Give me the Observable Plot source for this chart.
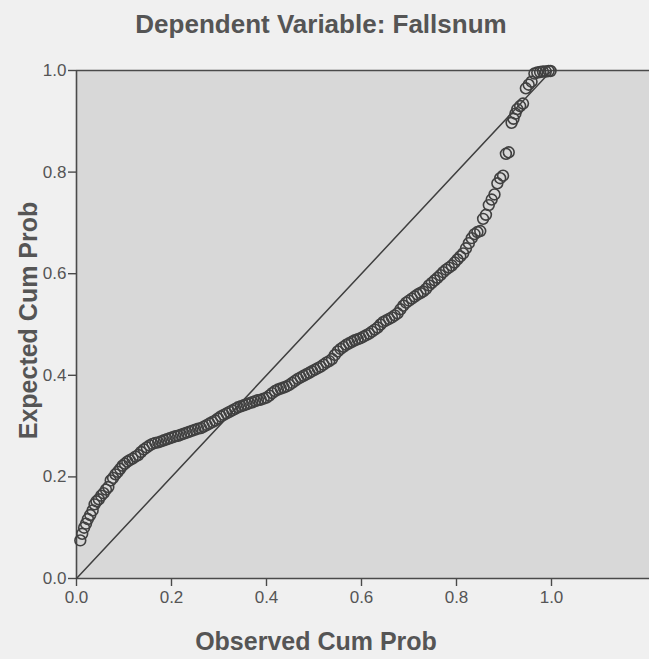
<!DOCTYPE html>
<html>
<head>
<meta charset="utf-8">
<script src="https://cdn.jsdelivr.net/npm/d3@7"></script>
<script src="https://cdn.jsdelivr.net/npm/@observablehq/plot@0.6"></script>
<style>
  html, body { margin: 0; padding: 0; background: #f0f0f0; }
  #chart { width: 649px; height: 659px; }
</style>
</head>
<body>
<div id="chart"></div>
<script>
const titleText = "Dependent Variable: Fallsnum";
const xLabel = "Observed Cum Prob";
const yLabel = "Expected Cum Prob";
const xTicks = [0, 0.2, 0.4, 0.6, 0.8, 1.0];
const yTicks = [0, 0.2, 0.4, 0.6, 0.8, 1.0];
const diagonal = [0, 1];

const observed = [
  0.008, 0.012, 0.016, 0.020, 0.024, 0.029, 0.034, 0.038, 0.042, 0.047,
  0.052, 0.057, 0.062, 0.067, 0.072, 0.077, 0.082, 0.087, 0.092, 0.097,
  0.102, 0.107, 0.112, 0.118, 0.124, 0.130, 0.136, 0.142, 0.148, 0.154,
  0.160, 0.166, 0.172, 0.178, 0.184, 0.190, 0.196, 0.202, 0.208, 0.214,
  0.220, 0.226, 0.232, 0.238, 0.244, 0.250, 0.256, 0.262, 0.268, 0.274,
  0.280, 0.286, 0.292, 0.298, 0.304, 0.310, 0.316, 0.322, 0.328, 0.334,
  0.340, 0.346, 0.352, 0.358, 0.364, 0.370, 0.376, 0.382, 0.388, 0.394,
  0.400, 0.406, 0.412, 0.418, 0.424, 0.430, 0.436, 0.442, 0.448, 0.454,
  0.460, 0.466, 0.472, 0.478, 0.484, 0.490, 0.496, 0.502, 0.508, 0.514,
  0.520, 0.526, 0.532, 0.538, 0.544, 0.550, 0.556, 0.562, 0.568, 0.574,
  0.580, 0.586, 0.592, 0.598, 0.604, 0.610, 0.616, 0.622, 0.628, 0.634,
  0.640, 0.646, 0.652, 0.658, 0.664, 0.670, 0.676, 0.682, 0.688, 0.694,
  0.700, 0.706, 0.712, 0.718, 0.724, 0.730, 0.736, 0.742, 0.748, 0.754,
  0.760, 0.766, 0.772, 0.778, 0.784, 0.790, 0.796, 0.802, 0.808, 0.814,
  0.820, 0.826, 0.832, 0.838, 0.844, 0.850, 0.856, 0.862, 0.868, 0.874,
  0.880, 0.886, 0.892, 0.898, 0.904, 0.910, 0.916, 0.920, 0.924, 0.928,
  0.934, 0.940, 0.946, 0.952, 0.958, 0.964, 0.970, 0.976, 0.982, 0.988,
  0.994, 0.998
];
const expected = [
  0.075, 0.088, 0.100, 0.108, 0.117, 0.125, 0.134, 0.146, 0.152, 0.156,
  0.163, 0.168, 0.175, 0.180, 0.193, 0.198, 0.205, 0.210, 0.216, 0.222,
  0.226, 0.230, 0.233, 0.236, 0.240, 0.243, 0.249, 0.254, 0.258, 0.262,
  0.265, 0.267, 0.268, 0.270, 0.272, 0.274, 0.276, 0.278, 0.280, 0.281,
  0.283, 0.285, 0.287, 0.289, 0.291, 0.293, 0.295, 0.296, 0.299, 0.302,
  0.305, 0.308, 0.311, 0.315, 0.319, 0.322, 0.325, 0.328, 0.331, 0.334,
  0.337, 0.339, 0.341, 0.343, 0.345, 0.347, 0.349, 0.351, 0.352, 0.354,
  0.356, 0.360, 0.365, 0.369, 0.372, 0.374, 0.376, 0.378, 0.381, 0.385,
  0.389, 0.393, 0.396, 0.399, 0.402, 0.405, 0.408, 0.411, 0.414, 0.417,
  0.421, 0.425, 0.428, 0.432, 0.440, 0.447, 0.452, 0.456, 0.460, 0.463,
  0.466, 0.469, 0.471, 0.473, 0.476, 0.479, 0.482, 0.486, 0.490, 0.494,
  0.500, 0.505, 0.508, 0.511, 0.514, 0.518, 0.522, 0.530, 0.537, 0.543,
  0.547, 0.551, 0.555, 0.559, 0.562, 0.565, 0.570, 0.577, 0.582, 0.587,
  0.592, 0.597, 0.603, 0.608, 0.612, 0.616, 0.622, 0.628, 0.634, 0.640,
  0.650, 0.660, 0.670, 0.678, 0.682, 0.684, 0.708, 0.716, 0.735, 0.746,
  0.756, 0.778, 0.788, 0.793, 0.836, 0.839, 0.897, 0.905, 0.915, 0.924,
  0.930, 0.935, 0.965, 0.972, 0.978, 0.994, 0.996, 0.997, 0.998, 0.998,
  0.999, 0.999
];

const points = observed.map((o, i) => ({observed: o, expected: expected[i]}));
const diagData = diagonal.map(v => ({observed: v, expected: v}));

const W = 649, H = 659;
const mLeft = 76, mTop = 70, mBottom = 81, mRight = 0;
const xMax = 1 + (W - mLeft - 475) / 475; // frame extends past 1.0 to the right edge

const font = "'Liberation Sans', Arial, Helvetica, sans-serif";
const ink = "#555";

const chart = Plot.plot({
  width: W,
  height: H,
  marginLeft: mLeft,
  marginTop: mTop,
  marginBottom: mBottom,
  marginRight: mRight,
  style: {fontFamily: font, fontSize: "17px", color: ink, background: "transparent", overflow: "visible"},
  x: {domain: [0, xMax]},
  y: {domain: [0, 1]},
  marks: [
    Plot.frame({fill: "#d8d8d8", stroke: null}),
    Plot.ruleY([1], {stroke: "#4a4a4a", strokeWidth: 1.6}),
    Plot.ruleY([0], {stroke: "#4a4a4a", strokeWidth: 1.6}),
    Plot.ruleX([0], {stroke: "#4a4a4a", strokeWidth: 1.6}),
    Plot.axisX({ticks: xTicks, tickFormat: d3.format(".1f"), tickSize: 8, tickPadding: 4, label: null, stroke: "#4a4a4a", strokeWidth: 1.4, fill: ink, fontSize: 17}),
    Plot.axisY({ticks: yTicks, tickFormat: d3.format(".1f"), tickSize: 8, tickPadding: 2, label: null, stroke: "#4a4a4a", strokeWidth: 1.4, fill: ink, fontSize: 17}),
    Plot.line(diagData, {x: "observed", y: "expected", stroke: "#3f3f3f", strokeWidth: 1.5}),
    Plot.dot(points, {x: "observed", y: "expected", r: 5.4, stroke: "#404040", strokeWidth: 1.6, fill: "none"}),
    Plot.text([titleText], {frameAnchor: "top", lineAnchor: "middle", dx: -42, dy: -46, fontSize: 26, fontWeight: "bold", fill: ink}),
    Plot.text([xLabel], {frameAnchor: "bottom", lineAnchor: "middle", dx: -47, dy: 63, fontSize: 25, fontWeight: "bold", fill: ink}),
    Plot.text([yLabel], {frameAnchor: "left", textAnchor: "middle", lineAnchor: "middle", dx: -48, dy: -4, rotate: -90, fontSize: 25, fontWeight: "bold", fill: ink})
  ]
});
document.getElementById("chart").appendChild(chart);
</script>
</body>
</html>
